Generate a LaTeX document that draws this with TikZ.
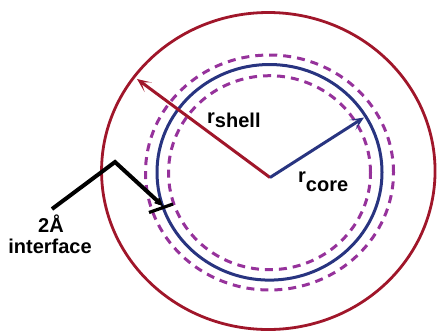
\documentclass[tikz,border=0pt]{standalone}
\usepackage{fontspec}
\setmainfont{Liberation Sans}
\usetikzlibrary{arrows.meta}
\definecolor{shellred}{RGB}{160,22,42}
\definecolor{coreblue}{RGB}{40,52,128}
\definecolor{ifpurple}{RGB}{150,50,155}
\tikzset{
  lbl/.style={inner sep=0pt, font=\fontsize{20}{21}\selectfont\bfseries},
  arr/.style={-{Stealth[length=14pt,width=12pt,inset=8.5pt]}},
  dashring/.style={ifpurple, line width=3pt, dash pattern=on 8pt off 6pt},
}
\begin{document}
\begin{tikzpicture}[x=1pt,y=-1pt]
\useasboundingbox (0,0) rectangle (438,333);
% circles
\draw[shellred, line width=2.8pt] (268.3,171) ellipse [x radius=166.75pt, y radius=158.5pt];
\draw[coreblue, line width=3pt] (269.5,172.3) ellipse [x radius=112.5pt, y radius=107.8pt];
\draw[dashring] (269.5,172.5) ellipse [x radius=124pt, y radius=117.5pt];
\draw[dashring] (269.5,172.7) ellipse [x radius=101pt, y radius=97pt];
% radius arrows
\coordinate (o) at (270,177.5);
\coordinate (rs) at (137,79);
\coordinate (rc) at (364,117.5);
\draw[shellred, line width=3pt, arr] (o) -- (rs);
\draw[coreblue, line width=3pt, arr] (o) -- (rc);
% labels
\node[lbl, anchor=base west] (lshell) at (207,127) {\raisebox{4pt}{r}shell};
\node[lbl, anchor=base west] (lcore) at (298,191) {\raisebox{9pt}{r}core};
\node[lbl, anchor=base] (l2a) at (51,232) {2Å};
\node[lbl, anchor=base] (lif) at (50,253) {interface};
% interface pointer
\coordinate (pstart) at (52,209);
\coordinate (papex) at (115,162);
\coordinate (ptip) at (163,206);
\coordinate (b1) at (149,212.5);
\coordinate (b2) at (173,204);
\draw[black, line width=4pt, miter limit=10, -{Stealth[length=14pt,width=13pt,inset=9pt]}] (pstart) -- (papex) -- (ptip);
\draw[black, line width=3.2pt] (b1) -- (b2);
\end{tikzpicture}
\end{document}
